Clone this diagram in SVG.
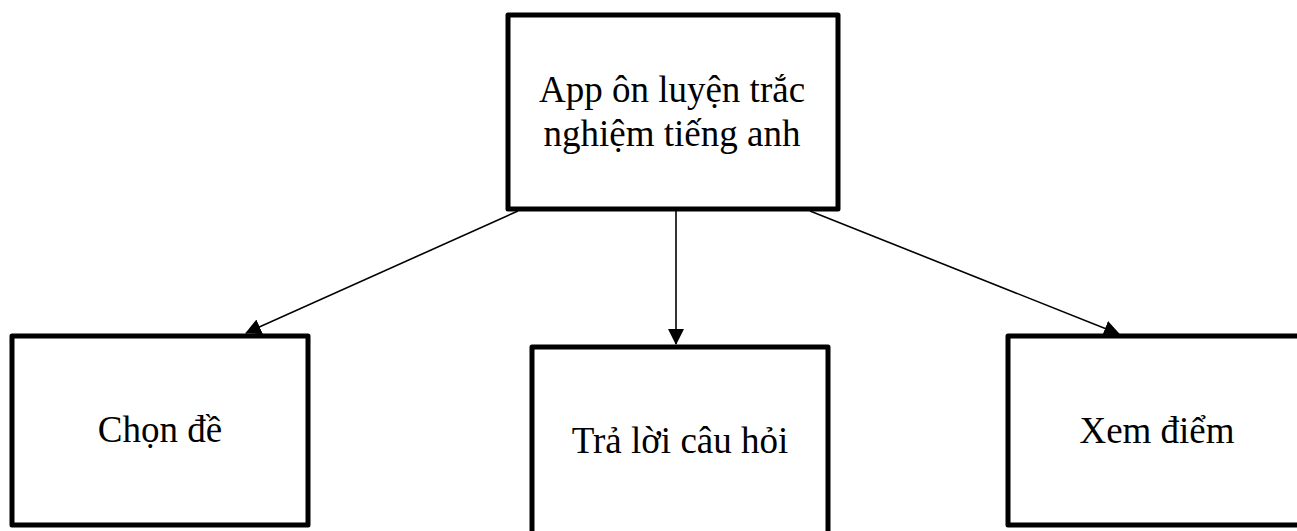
<svg xmlns="http://www.w3.org/2000/svg" width="1297" height="531" viewBox="0 0 1297 531">
  <style>
    .box { fill: #ffffff; stroke: #000000; stroke-width: 5; stroke-linejoin: round; }
    .lbl { font-family: "Liberation Serif", "Times New Roman", serif; font-size: 37px; fill: #000000; text-anchor: middle; }
    .edge { stroke: #000000; stroke-width: 1.6; fill: none; marker-end: url(#arrow); }
  </style>
  <defs>
    <marker id="arrow" markerUnits="userSpaceOnUse" markerWidth="16" markerHeight="16" viewBox="0 0 16 16" refX="15" refY="8" orient="auto">
      <path d="M0,0 L16,8 L0,16 Z" fill="#000000"/>
    </marker>
  </defs>
  <rect width="1297" height="531" fill="#ffffff"/>

  <!-- connectors from the root box to the three features -->
  <g id="connectors">
    <line class="edge" x1="518" y1="211" x2="246" y2="333"/>
    <line class="edge" x1="676" y1="211" x2="676" y2="344"/>
    <line class="edge" x1="810" y1="211" x2="1119" y2="334"/>
  </g>

  <g id="node-app">
    <rect class="box" x="508" y="15" width="330" height="194"/>
    <text class="lbl" x="672" y="102">App ôn luyện trắc</text>
    <text class="lbl" x="672" y="146">nghiệm tiếng anh</text>
  </g>

  <g id="node-chon-de">
    <rect class="box" x="12" y="336" width="296" height="189"/>
    <text class="lbl" x="160" y="442">Chọn đề</text>
  </g>

  <g id="node-tra-loi">
    <rect class="box" x="532" y="347" width="296" height="200"/>
    <text class="lbl" x="680" y="453">Trả lời câu hỏi</text>
  </g>

  <g id="node-xem-diem">
    <rect class="box" x="1008" y="336" width="296" height="189"/>
    <text class="lbl" x="1157" y="443">Xem điểm</text>
  </g>
</svg>
